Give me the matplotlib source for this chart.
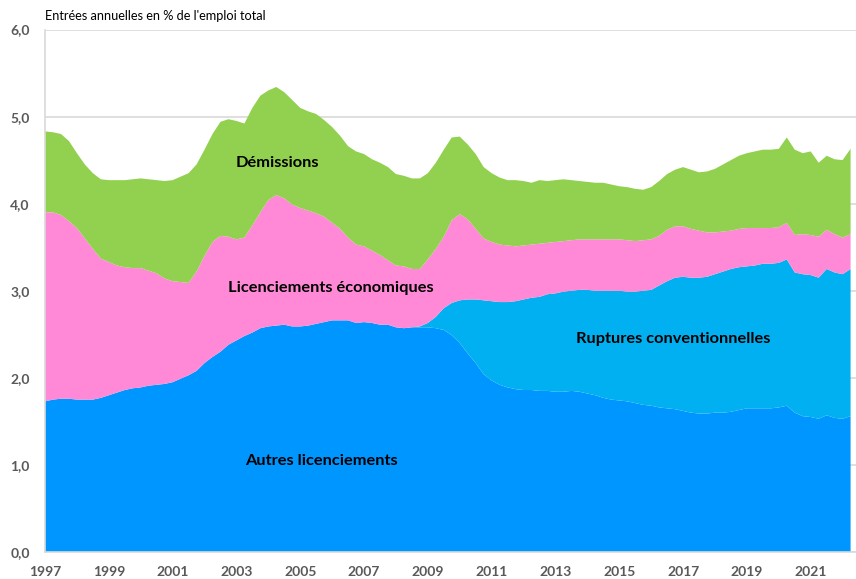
import numpy as np
import matplotlib
matplotlib.use("Agg")
import matplotlib.pyplot as plt

# Donnees trimestrielles, 1997T1 a 2022T2 (entrees annuelles en % de l'emploi total)
annees = 1997 + np.arange(102) / 4

autres_licenciements = [
    1.73, 1.75, 1.76, 1.76, 1.75, 1.75, 1.75, 1.77, 1.80, 1.83, 1.86, 1.88,
    1.89, 1.91, 1.92, 1.93, 1.95, 1.99, 2.03, 2.08, 2.17, 2.24, 2.30, 2.38,
    2.43, 2.48, 2.52, 2.57, 2.59, 2.60, 2.61, 2.59, 2.59, 2.60, 2.62, 2.64,
    2.66, 2.66, 2.66, 2.63, 2.64, 2.63, 2.61, 2.61, 2.58, 2.57, 2.58, 2.58,
    2.58, 2.57, 2.55, 2.49, 2.40, 2.28, 2.17, 2.04, 1.97, 1.92, 1.89, 1.87,
    1.86, 1.86, 1.85, 1.85, 1.84, 1.84, 1.85, 1.84, 1.82, 1.80, 1.77, 1.75,
    1.74, 1.73, 1.71, 1.69, 1.68, 1.66, 1.65, 1.64, 1.62, 1.60, 1.59, 1.59,
    1.60, 1.60, 1.61, 1.63, 1.65, 1.65, 1.65, 1.65, 1.66, 1.68, 1.60, 1.56,
    1.55, 1.53, 1.57, 1.54, 1.53, 1.56,
]

ruptures_conventionnelles = [0.0] * 47 + [
    0.01, 0.05, 0.13, 0.25, 0.37, 0.49, 0.62, 0.73, 0.85, 0.91, 0.95, 0.98,
    1.01, 1.04, 1.06, 1.08, 1.11, 1.13, 1.15, 1.15, 1.17, 1.19, 1.20, 1.23,
    1.25, 1.26, 1.26, 1.28, 1.31, 1.33, 1.40, 1.46, 1.51, 1.54, 1.55, 1.56,
    1.57, 1.59, 1.62, 1.64, 1.64, 1.63, 1.64, 1.66, 1.66, 1.66, 1.68, 1.61,
    1.63, 1.63, 1.62, 1.68, 1.67, 1.66, 1.69,
]

licenciements_eco = [
    2.17, 2.15, 2.11, 2.04, 1.97, 1.85, 1.73, 1.60, 1.53, 1.46, 1.41, 1.38,
    1.37, 1.32, 1.28, 1.21, 1.16, 1.11, 1.06, 1.14, 1.23, 1.32, 1.33, 1.24,
    1.16, 1.13, 1.23, 1.33, 1.45, 1.50, 1.45, 1.40, 1.36, 1.32, 1.27, 1.21,
    1.12, 1.05, 0.95, 0.90, 0.87, 0.83, 0.80, 0.74, 0.71, 0.71, 0.67, 0.66,
    0.73, 0.78, 0.82, 0.95, 0.99, 0.92, 0.81, 0.71, 0.68, 0.66, 0.65, 0.63,
    0.62, 0.61, 0.61, 0.59, 0.59, 0.58, 0.58, 0.58, 0.58, 0.59, 0.59, 0.59,
    0.59, 0.59, 0.58, 0.58, 0.58, 0.57, 0.59, 0.59, 0.58, 0.56, 0.54, 0.51,
    0.48, 0.46, 0.44, 0.44, 0.44, 0.43, 0.41, 0.41, 0.41, 0.42, 0.43, 0.46,
    0.46, 0.47, 0.45, 0.44, 0.42, 0.40,
]

demissions = [
    0.93, 0.92, 0.93, 0.92, 0.86, 0.85, 0.87, 0.91, 0.94, 0.98, 1.00, 1.02,
    1.03, 1.05, 1.07, 1.12, 1.16, 1.21, 1.26, 1.23, 1.22, 1.24, 1.31, 1.35,
    1.36, 1.31, 1.35, 1.34, 1.26, 1.24, 1.22, 1.20, 1.15, 1.14, 1.14, 1.11,
    1.10, 1.07, 1.05, 1.07, 1.06, 1.05, 1.06, 1.07, 1.05, 1.04, 1.04, 1.04,
    0.99, 0.99, 1.00, 0.95, 0.89, 0.86, 0.86, 0.82, 0.79, 0.77, 0.75, 0.76,
    0.74, 0.71, 0.73, 0.71, 0.71, 0.71, 0.69, 0.67, 0.66, 0.65, 0.65, 0.63,
    0.61, 0.61, 0.60, 0.58, 0.60, 0.63, 0.64, 0.65, 0.68, 0.68, 0.67, 0.70,
    0.73, 0.77, 0.81, 0.84, 0.86, 0.88, 0.90, 0.90, 0.90, 0.98, 0.98, 0.93,
    0.96, 0.85, 0.85, 0.86, 0.89, 0.98,
]

couleurs = ["#0096FF", "#00B0F0", "#FF89D6", "#92D050"]
etiquettes = [
    ("Démissions", 2004.27, 4.47),
    ("Licenciements économiques", 2005.97, 3.03),
    ("Ruptures conventionnelles", 2016.69, 2.45),
    ("Autres licenciements", 2005.65, 1.05),
]
annees_ticks = list(range(1997, 2022, 2))

plt.rcParams['font.family'] = ['Lato', 'DejaVu Sans']

fig = plt.figure(figsize=(8.56, 5.79), dpi=100)
ax = fig.add_axes([45 / 856, 27 / 579, 811 / 856, 522.5 / 579])

ax.stackplot(annees, autres_licenciements, ruptures_conventionnelles,
             licenciements_eco, demissions, colors=couleurs, linewidth=0,
             zorder=2)

ax.set_xlim(1997, 2022.42)
ax.set_ylim(0, 6)
ax.set_yticks(np.arange(0, 6.1, 1))
ax.set_yticklabels([f"{v:.1f}".replace(".", ",") for v in np.arange(0, 6.1, 1)])
ax.set_xticks(annees_ticks)
ax.set_xticklabels([str(a) for a in annees_ticks])
ax.grid(axis='y', color='#D9D9D9', linewidth=1.2, zorder=1)
ax.set_axisbelow(True)

for s in ['top', 'right']:
    ax.spines[s].set_visible(False)
for s in ['left', 'bottom']:
    ax.spines[s].set_color('#D9D9D9')
    ax.spines[s].set_linewidth(1.2)

ax.tick_params(axis='both', length=0, labelsize=10, labelcolor='#595959')
ax.tick_params(axis='x', pad=10)
ax.tick_params(axis='y', pad=11)
for lab in ax.get_xticklabels() + ax.get_yticklabels():
    lab.set_fontweight('bold')

for texte, x, y in etiquettes:
    ax.text(x, y, texte, ha='center', va='center', fontsize=11.8,
            fontweight='bold', color='black', zorder=3)

fig.text(45 / 856, 1 - 16 / 579, "Entrées annuelles en % de l'emploi total",
         ha='left', va='center', fontsize=9.2, color='black')

fig.savefig("out.png", dpi=100)
